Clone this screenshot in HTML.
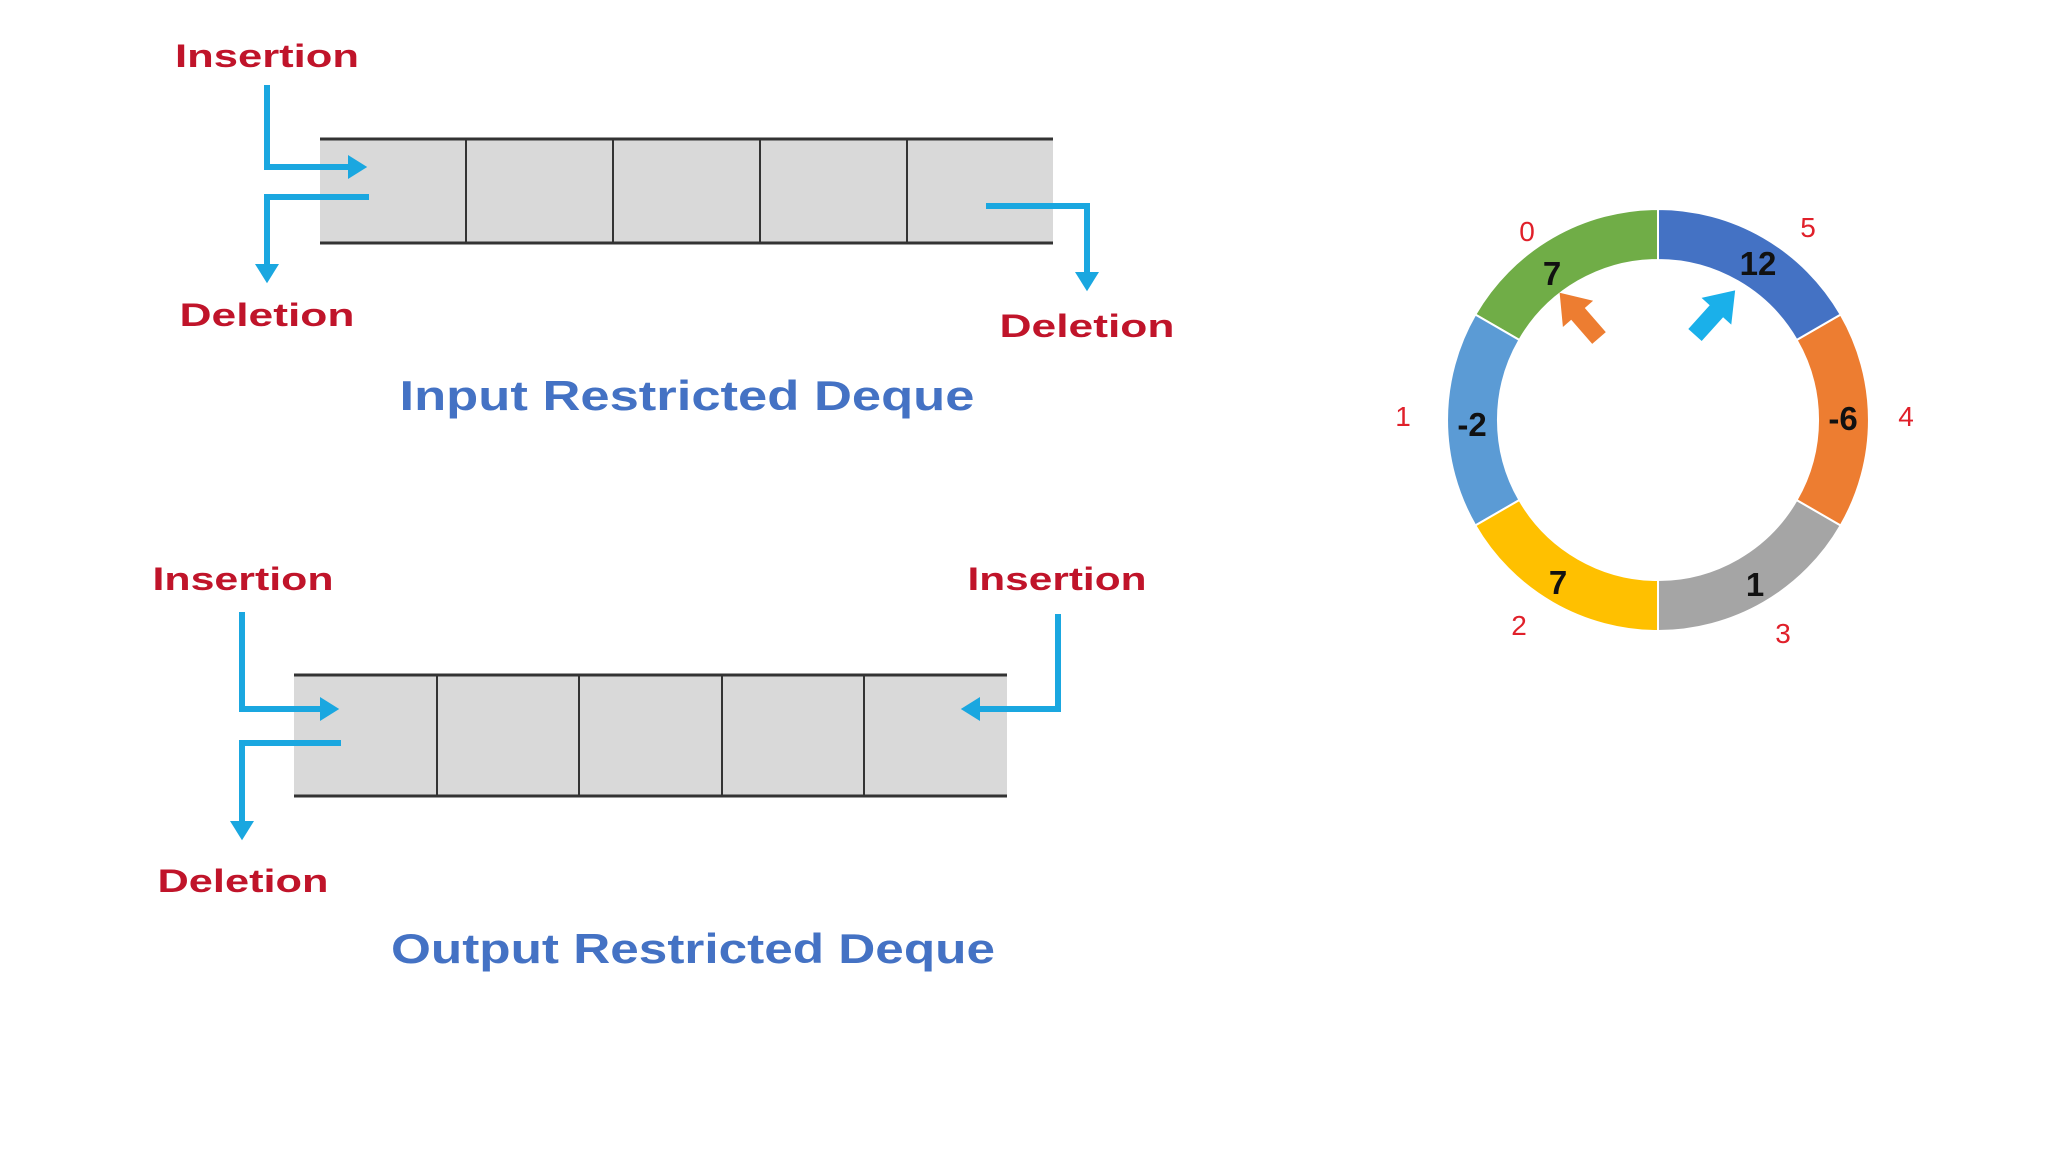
<!DOCTYPE html>
<html><head><meta charset="utf-8"><style>
html,body{margin:0;padding:0;background:#fff;}
svg{display:block;}
.r{font-family:"Liberation Sans",sans-serif;fill:#c0142a;font-size:32px;font-weight:bold;text-anchor:middle;}
.t{font-family:"Liberation Sans",sans-serif;fill:#4472c4;font-size:42px;font-weight:bold;text-anchor:middle;}
.v{font-family:"Liberation Sans",sans-serif;fill:#111;font-size:33px;font-weight:bold;text-anchor:middle;}
.i{font-family:"Liberation Sans",sans-serif;fill:#e0202a;font-size:28px;text-anchor:middle;}
</style></head><body>
<svg width="2048" height="1152" viewBox="0 0 2048 1152" xmlns="http://www.w3.org/2000/svg">
<defs><marker id="ah" markerWidth="4" markerHeight="4" refX="2" refY="2" orient="auto" markerUnits="strokeWidth"><path d="M0,0 L3.2,2 L0,4 Z" fill="#1aa7e0"/></marker></defs>
<!-- Top queue -->
<rect x="320" y="139" width="733" height="104" fill="#d9d9d9"/>
<g stroke="#333" stroke-width="2">
<line x1="320" y1="139" x2="1053" y2="139" stroke-width="3"/><line x1="320" y1="243" x2="1053" y2="243" stroke-width="3"/>
<line x1="466" y1="139" x2="466" y2="243"/><line x1="613" y1="139" x2="613" y2="243"/><line x1="760" y1="139" x2="760" y2="243"/><line x1="907" y1="139" x2="907" y2="243"/>
</g>
<g stroke="#1aa7e0" stroke-width="6" fill="none">
<path d="M267,85 V167 H360" marker-end="url(#ah)"/>
<path d="M369,197 H267 V276" marker-end="url(#ah)"/>
<path d="M986,206 H1087 V284" marker-end="url(#ah)"/>
</g>
<text class="r" x="267" y="67" textLength="184" lengthAdjust="spacingAndGlyphs">Insertion</text>
<text class="r" x="267" y="326" textLength="175" lengthAdjust="spacingAndGlyphs">Deletion</text>
<text class="r" x="1087" y="337" textLength="175" lengthAdjust="spacingAndGlyphs">Deletion</text>
<text class="t" x="687" y="410" textLength="575" lengthAdjust="spacingAndGlyphs">Input Restricted Deque</text>
<!-- Bottom queue -->
<rect x="294" y="675" width="713" height="121" fill="#d9d9d9"/>
<g stroke="#333" stroke-width="2">
<line x1="294" y1="675" x2="1007" y2="675" stroke-width="3"/><line x1="294" y1="796" x2="1007" y2="796" stroke-width="3"/>
<line x1="437" y1="675" x2="437" y2="796"/><line x1="579" y1="675" x2="579" y2="796"/><line x1="722" y1="675" x2="722" y2="796"/><line x1="864" y1="675" x2="864" y2="796"/>
</g>
<g stroke="#1aa7e0" stroke-width="6" fill="none">
<path d="M242,612 V709 H332" marker-end="url(#ah)"/>
<path d="M341,743 H242 V833" marker-end="url(#ah)"/>
<path d="M1058,614 V709 H968" marker-end="url(#ah)"/>
</g>
<text class="r" x="243" y="590" textLength="181" lengthAdjust="spacingAndGlyphs">Insertion</text>
<text class="r" x="1057" y="590" textLength="179" lengthAdjust="spacingAndGlyphs">Insertion</text>
<text class="r" x="243" y="892" textLength="171" lengthAdjust="spacingAndGlyphs">Deletion</text>
<text class="t" x="693" y="963" textLength="604" lengthAdjust="spacingAndGlyphs">Output Restricted Deque</text>
<!-- Ring: center 1658,420 R 211 r 160 -->
<g transform="translate(-8,0)">
<g stroke="#fff" stroke-width="2">
<path d="M1666,209 A211,211 0 0 0 1483.3,314.5 L1527.4,340 A160,160 0 0 1 1666,260 Z" fill="#70ad47"/>
<path d="M1483.3,314.5 A211,211 0 0 0 1483.3,525.5 L1527.4,500 A160,160 0 0 1 1527.4,340 Z" fill="#5b9bd5"/>
<path d="M1483.3,525.5 A211,211 0 0 0 1666,631 L1666,580 A160,160 0 0 1 1527.4,500 Z" fill="#ffc000"/>
<path d="M1666,631 A211,211 0 0 0 1848.7,525.5 L1804.6,500 A160,160 0 0 1 1666,580 Z" fill="#a5a5a5"/>
<path d="M1848.7,525.5 A211,211 0 0 0 1848.7,314.5 L1804.6,340 A160,160 0 0 1 1804.6,500 Z" fill="#ed7d31"/>
<path d="M1848.7,314.5 A211,211 0 0 0 1666,209 L1666,260 A160,160 0 0 1 1804.6,340 Z" fill="#4472c4"/>
</g>
<text class="v" x="1560" y="285">7</text>
<text class="v" x="1766" y="275">12</text>
<text class="v" x="1851" y="430">-6</text>
<text class="v" x="1763" y="596">1</text>
<text class="v" x="1566" y="594">7</text>
<text class="v" x="1480" y="436">-2</text>
<text class="i" x="1535" y="241">0</text>
<text class="i" x="1816" y="237">5</text>
<text class="i" x="1914" y="426">4</text>
<text class="i" x="1791" y="643">3</text>
<text class="i" x="1527" y="635">2</text>
<text class="i" x="1411" y="426">1</text>
<polygon points="0,-9 32,-9 32,-20 60,0 32,20 32,9 0,9" fill="#ed7d31" transform="translate(1607,338) rotate(-131)"/>
<polygon points="0,-9 32,-9 32,-20 60,0 32,20 32,9 0,9" fill="#1ab0ea" transform="translate(1703,335) rotate(-48)"/>
</g>
</svg>
</body></html>
